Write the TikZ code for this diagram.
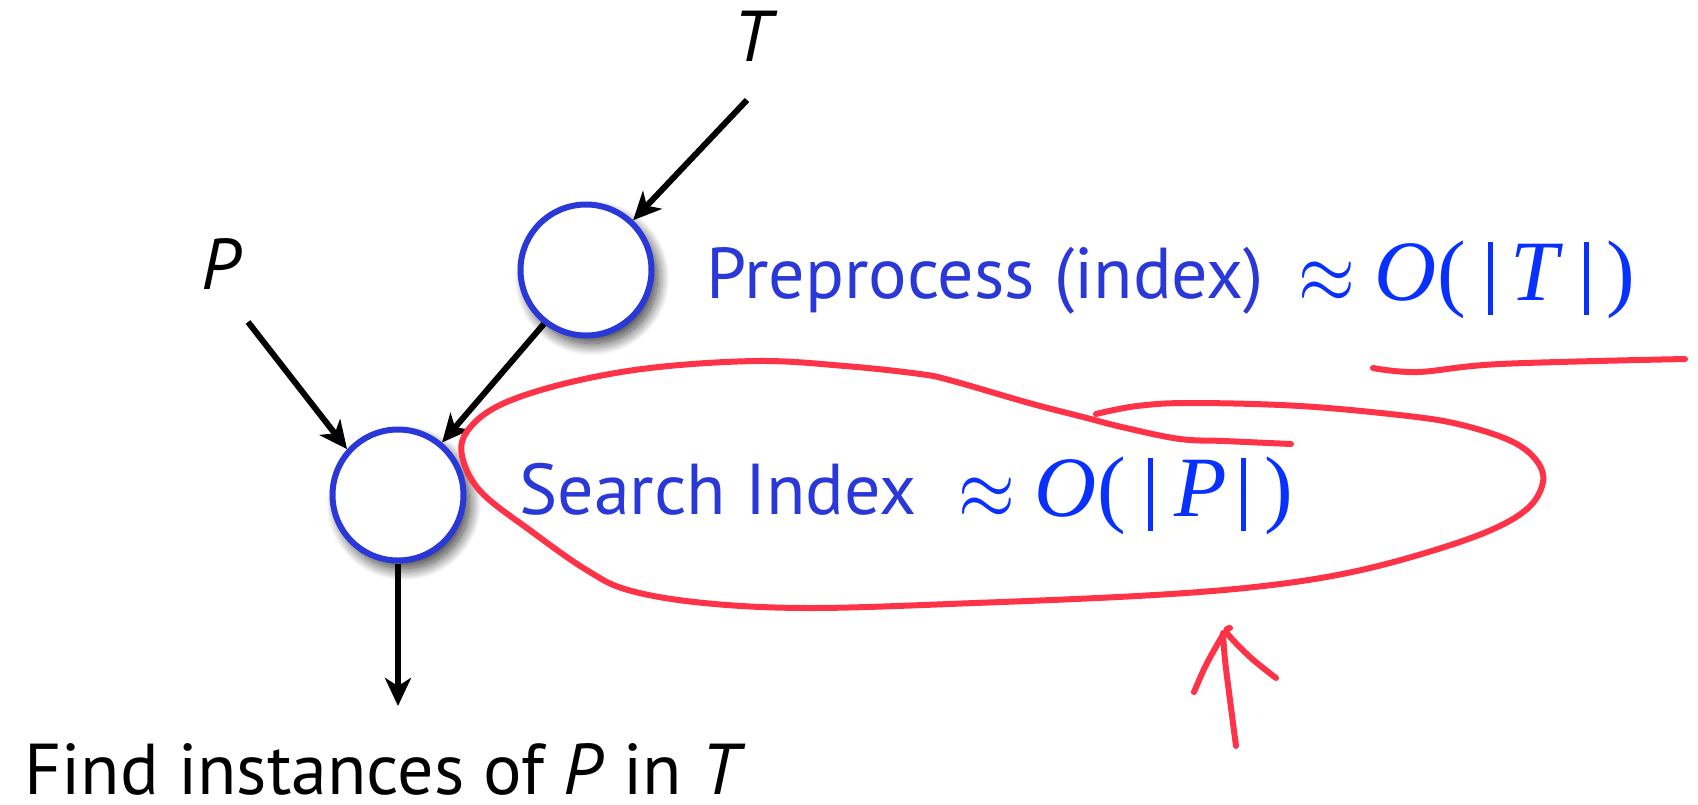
\documentclass[tikz,border=0pt]{standalone}
\usepackage{fontspec}
\usepackage{graphicx}
\setmainfont{PT Sans}
\newfontfamily\mathserif{Liberation Serif}
\usetikzlibrary{arrows.meta, shadows.blur}

\definecolor{nodeblue}{RGB}{42,56,216}
\definecolor{mathblue}{RGB}{8,48,255}
\definecolor{inkred}{RGB}{255,51,72}

% pieces of the cost formulas
\newcommand{\costbar}{\rule[-15pt]{5pt}{73pt}}
\newcommand{\costapprox}{\raisebox{-3pt}{\scalebox{7.3}[8.6]{\fontsize{10}{12}\selectfont$\approx$}}}

\tikzset{
  procnode/.style={circle, draw=nodeblue, line width=6pt, fill=white,
    minimum size=131pt, inner sep=0pt,
    blur shadow={shadow xshift=6pt, shadow yshift=-8pt,
      shadow blur radius=12pt, shadow blur steps=30, shadow opacity=80}},
  flow/.style={draw=black, line width=6pt,
    -{Stealth[length=28pt, width=26pt, inset=8pt]}},
  bigtext/.style={anchor=base west, inner sep=0pt, text depth=0pt,
    font=\fontsize{72}{80}\selectfont},
  costtext/.style={anchor=base west, inner sep=0pt, text depth=0pt,
    text=mathblue, font=\mathserif\fontsize{86}{90}\selectfont},
  ink/.style={draw=inkred, line width=6pt, line cap=round, line join=round}
}

\begin{document}
\begin{tikzpicture}[x=1pt, y=-1pt]
  \useasboundingbox (0,0) rectangle (1698,804);

  % input symbols
  \node[bigtext, anchor=center] (T) at (753,36) {\itshape T};
  \node[bigtext, anchor=center] (P) at (221,264) {\itshape P};
  \coordinate (Tin) at (747,100);
  \coordinate (Pin) at (248,322);
  \coordinate (out) at (398,706);

  % processing steps
  \node[procnode] (pre) at (586,270) {};
  \node[procnode] (srch) at (398,495) {};

  \draw[flow] (Tin) -- (pre);
  \draw[flow] (Pin) -- (srch.138);
  \draw[flow] (pre.232) -- (srch.50);
  \draw[flow] (srch) -- (out);

  % step descriptions and their costs
  \node[bigtext, text=nodeblue] (pretext) at (706,298) {Preprocess (index)};
  \node[costtext] (precost) at (1298,300)
    {\costapprox\hspace{20pt}\textit{O}(\hspace{22pt}\costbar\hspace{18pt}\textit{T}\hspace{20pt}\costbar\hspace{18pt})};
  \node[bigtext, text=nodeblue] (srchtext) at (519,514) {Search Index};
  \node[costtext] (srchcost) at (958,516)
    {\costapprox\hspace{20pt}\textit{O}(\hspace{22pt}\costbar\hspace{22pt}\textit{P}\hspace{14pt}\costbar\hspace{18pt})};
  \node[bigtext] (result) at (24,794) {Find instances of \textit{P} in \textit{T}};

  % hand-drawn emphasis around the search cost
  \draw[ink] plot[smooth, tension=0.6] coordinates {
    (1291,444) (1224,441) (1180,439) (1126,428) (1083,417) (1029,403)
    (953,381) (920,374) (845,366) (758,361) (650,368) (563,384)
    (498,406) (466,433) (463,460) (482,493) (531,531) (585,569)
    (628,590) (704,603) (812,608) (975,603) (1137,596) (1245,588)
    (1332,576) (1408,558) (1484,533) (1527,509) (1543,482) (1536,460)
    (1511,441) (1462,425) (1408,416) (1300,406) (1191,403) (1137,406)
    (1096,414)};
  \draw[ink] plot[smooth, tension=0.6] coordinates {
    (1373,368) (1418,372) (1500,364) (1685,359)};
  % hand-drawn arrow pointing at the loop
  \draw[ink] plot[smooth, tension=0.6] coordinates {
    (1236,746) (1230,700) (1225,660) (1223,633)};
  \draw[ink] plot[smooth, tension=0.6] coordinates {
    (1223,635) (1217,645) (1205,667) (1194,692)};
  \draw[ink] plot[smooth, tension=0.6] coordinates {
    (1230,628) (1227,633) (1250,657) (1276,678)};
\end{tikzpicture}
\end{document}
